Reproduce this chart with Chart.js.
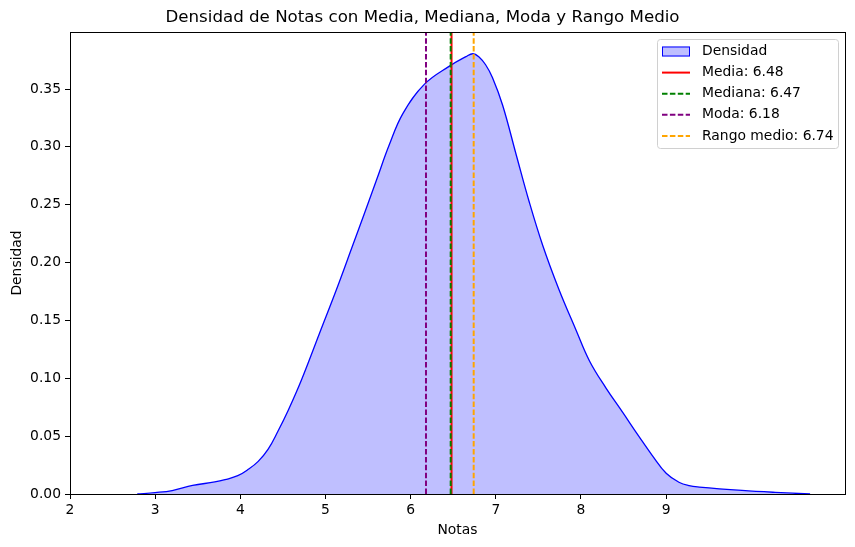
<!DOCTYPE html>
<html>
<head>
<meta charset="utf-8">
<script src="https://cdn.jsdelivr.net/npm/chart.js@4.4.0/dist/chart.umd.min.js"></script>
<style>
	body { margin: 0; background: #fff; }
	#wrap { width: 855px; height: 547px; }
</style>
</head>
<body>
<div id="wrap"><canvas id="kde" width="855" height="547"></canvas></div>
<script>
// densidad estimada
const kdeX = [2.79, 3.0, 3.2, 3.44, 3.7, 3.82, 3.97, 4.09, 4.21, 4.325, 4.44, 4.56, 4.72, 4.93, 5.13, 5.32, 5.46, 5.6, 5.75, 5.91, 6.16, 6.46, 6.65, 6.73, 6.8, 6.88, 6.96, 7.08, 7.24, 7.39, 7.55, 7.74, 7.94, 8.1, 8.29, 8.49, 8.68, 8.84, 9.0, 9.15, 9.27, 9.39, 9.89, 10.28, 10.69]
const kdeY = [0, 0.0012, 0.003, 0.0074, 0.0104, 0.0124, 0.0158, 0.0211, 0.0282, 0.0385, 0.054, 0.072, 0.099, 0.139, 0.177, 0.215, 0.243, 0.2716, 0.302, 0.329, 0.354, 0.37, 0.378, 0.3805, 0.378, 0.371, 0.36, 0.336, 0.293, 0.253, 0.215, 0.177, 0.142, 0.115, 0.092, 0.0705, 0.0498, 0.033, 0.018, 0.0102, 0.0072, 0.006, 0.0031, 0.0014, 0]

const statNames = ['Media', 'Mediana', 'Moda', 'Rango medio']
const statValues = [6.48, 6.47, 6.18, 6.74]

const xTicks = [2, 3, 4, 5, 6, 7, 8, 9]
const yTicks = [0, 0.05, 0.1, 0.15, 0.2, 0.25, 0.3, 0.35]
const xMin = 2
const xMax = 11.1
const yMax = 0.3993

const font = 'DejaVu Sans'
const statColors = ['red', 'green', 'purple', 'orange']
const statDash = [[], [5.5, 2.4], [5.5, 2.4], [5.5, 2.4]]

const points = []
for (let i = 0; i < kdeX.length; i++) {
	points.push({ x: kdeX[i], y: kdeY[i] })
}

const datasets = [{
	label: 'Densidad',
	data: points,
	borderColor: 'blue',
	borderWidth: 1.3,
	backgroundColor: 'rgba(0, 0, 255, 0.25)',
	fill: 'origin',
	pointRadius: 0,
	tension: 0.4,
	order: 10
}]
statNames.forEach((name, i) => {
	datasets.push({
		label: name + ': ' + statValues[i].toFixed(2),
		data: [{ x: statValues[i], y: 0 }, { x: statValues[i], y: yMax }],
		borderColor: statColors[i],
		borderWidth: 2,
		borderDash: statDash[i],
		pointRadius: 0,
		fill: false,
		order: 9 - i
	})
})

// marco completo de los ejes
const framePlugin = {
	id: 'frame',
	afterDatasetsDraw(chart) {
		const a = chart.chartArea
		const ctx = chart.ctx
		ctx.save()
		ctx.strokeStyle = '#000'
		ctx.lineWidth = 1
		ctx.strokeRect(Math.round(a.left) + 0.5, Math.round(a.top) + 0.5, Math.round(a.right - a.left), Math.round(a.bottom - a.top))
		ctx.restore()
	}
}

// leyenda dentro del area, arriba a la derecha
const legendPlugin = {
	id: 'boxLegend',
	afterDraw(chart) {
		const ctx = chart.ctx
		const bx = 657.5, by = 39.5, bw = 181, bh = 109
		ctx.save()
		ctx.beginPath()
		ctx.roundRect(bx, by, bw, bh, 3)
		ctx.fillStyle = 'rgba(255,255,255,0.8)'
		ctx.fill()
		ctx.strokeStyle = '#d0d0d0'
		ctx.lineWidth = 1
		ctx.stroke()
		ctx.font = '13.89px "' + font + '"'
		ctx.textBaseline = 'middle'
		chart.data.datasets.forEach((ds, i) => {
			const cy = 51.5 + i * 21.1
			if (i === 0) {
				ctx.fillStyle = ds.backgroundColor
				ctx.fillRect(662, cy - 5, 28, 10)
				ctx.strokeStyle = ds.borderColor
				ctx.lineWidth = 1
				ctx.strokeRect(662.5, cy - 4.5, 27, 9)
			} else {
				ctx.strokeStyle = ds.borderColor
				ctx.lineWidth = 2
				ctx.setLineDash(ds.borderDash)
				ctx.beginPath()
				ctx.moveTo(662, cy)
				ctx.lineTo(690, cy)
				ctx.stroke()
				ctx.setLineDash([])
			}
			ctx.fillStyle = '#000'
			ctx.fillText(ds.label, 702, cy)
		})
		ctx.restore()
	}
}

new Chart(document.getElementById('kde'), {
	type: 'line',
	data: { datasets },
	options: {
		responsive: false,
		animation: false,
		devicePixelRatio: 1,
		layout: { padding: { left: 0, right: 10, top: 0, bottom: 0 } },
		plugins: {
			legend: { display: false },
			tooltip: { enabled: false },
			title: {
				display: true,
				text: 'Densidad de Notas con Media, Mediana, Moda y Rango Medio',
				color: '#000',
				font: { family: font, size: 16.67, weight: 'normal' },
				padding: { top: 8, bottom: 4 }
			}
		},
		scales: {
			x: {
				type: 'linear',
				min: xMin,
				max: xMax,
				afterBuildTicks: (scale) => { scale.ticks = xTicks.map((v) => ({ value: v })) },
				afterFit: (scale) => { scale.height = 53 },
				grid: { drawOnChartArea: false, drawTicks: true, tickLength: 5, tickColor: '#000' },
				border: { color: '#000', width: 1 },
				ticks: {
					color: '#000',
					padding: 3,
					maxRotation: 0,
					font: { family: font, size: 13.89 },
					callback: (v) => String(v)
				},
				title: {
					display: true,
					text: 'Notas',
					color: '#000',
					font: { family: font, size: 13.89 },
					padding: { top: 0, bottom: 8.7 }
				}
			},
			y: {
				min: 0,
				max: yMax,
				afterBuildTicks: (scale) => { scale.ticks = yTicks.map((v) => ({ value: v })) },
				afterFit: (scale) => { scale.width = 70 },
				grid: { drawOnChartArea: false, drawTicks: true, tickLength: 5, tickColor: '#000' },
				border: { color: '#000', width: 1 },
				ticks: {
					color: '#000',
					padding: 4,
					font: { family: font, size: 13.89 },
					callback: (v) => Number(v).toFixed(2)
				},
				title: {
					display: true,
					text: 'Densidad',
					color: '#000',
					font: { family: font, size: 13.89 },
					padding: { top: 8.7, bottom: 0 }
				}
			}
		}
	},
	plugins: [framePlugin, legendPlugin]
})
</script>
</body>
</html>
